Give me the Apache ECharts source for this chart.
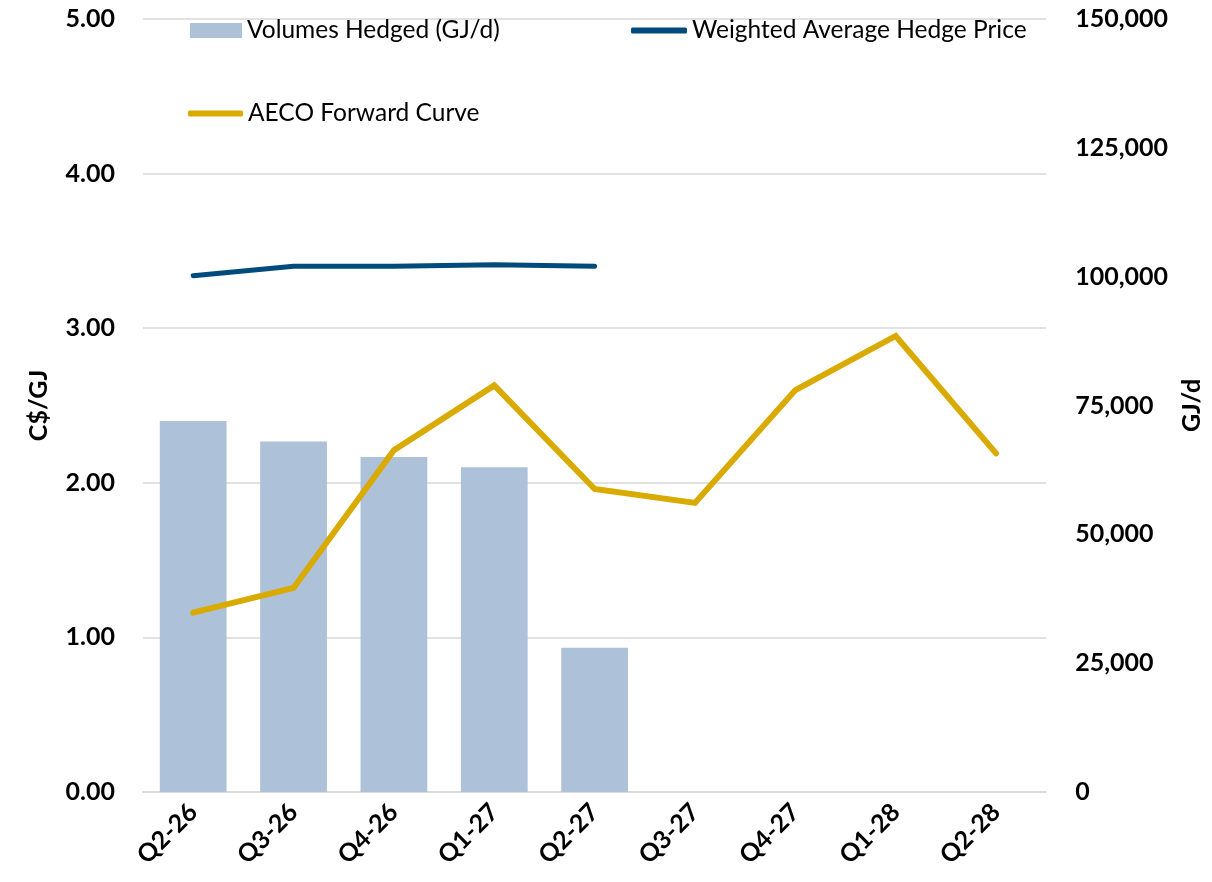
<!DOCTYPE html>
<html>
<head>
<meta charset="utf-8">
<script src="https://cdn.jsdelivr.net/npm/echarts@6/dist/echarts.min.js"></script>
<style>
html,body{margin:0;padding:0;background:#fff;}
#chart{width:1212px;height:882px;}
</style>
</head>
<body>
<div id="chart"></div>
<script>
const categories = ['Q2-26','Q3-26','Q4-26','Q1-27','Q2-27','Q3-27','Q4-27','Q1-28','Q2-28'];
const volumesHedged = [72000, 68000, 65000, 63000, 28000, null, null, null, null];
const hedgePrice = [3.34, 3.40, 3.40, 3.41, 3.40, null, null, null, null];
const aecoCurve = [1.16, 1.32, 2.21, 2.63, 1.96, 1.87, 2.60, 2.95, 2.19];
const leftTicks = {min: 0, max: 5, interval: 1};
const rightTicks = {min: 0, max: 150000, interval: 25000};

const FONT = 'Lato, "Open Sans", sans-serif';
const chart = echarts.init(document.getElementById('chart'), null, {renderer: 'canvas'});
const legendText = {fontFamily: FONT, fontSize: 24.5, color: '#000', lineHeight: 27};

chart.setOption({
  animation: false,
  backgroundColor: '#fff',
  textStyle: {fontFamily: FONT},
  grid: {left: 143, right: 164, top: 19, bottom: 90, containLabel: false},
  legend: [
    {data: [{name: 'Volumes Hedged (GJ/d)', icon: 'rect'}], left: 190, top: 17, padding: 0, itemWidth: 52, itemHeight: 15, textStyle: legendText, selectedMode: false},
    {data: [{name: 'Weighted Average Hedge Price', icon: 'roundRect'}], left: 631, top: 17, padding: 0, itemWidth: 56, itemHeight: 6, textStyle: legendText, selectedMode: false},
    {data: [{name: 'AECO Forward Curve', icon: 'roundRect'}], left: 188, top: 100, padding: 0, itemWidth: 55, itemHeight: 6, textStyle: legendText, selectedMode: false}
  ],
  xAxis: {
    type: 'category',
    data: categories,
    axisLine: {lineStyle: {color: '#d9d9d9', width: 1.5}},
    axisTick: {show: false},
    axisLabel: {rotate: 45, fontFamily: FONT, fontWeight: 'bold', fontSize: 25, color: '#000', margin: 16}
  },
  yAxis: [
    {
      type: 'value', min: leftTicks.min, max: leftTicks.max, interval: leftTicks.interval,
      name: 'C$/GJ', nameLocation: 'middle', nameGap: 92, nameRotate: 90,
      nameTextStyle: {fontFamily: FONT, fontWeight: 'bold', fontSize: 25, color: '#000'},
      axisLine: {show: false}, axisTick: {show: false},
      axisLabel: {formatter: v => v.toFixed(2), fontFamily: FONT, fontWeight: 'bold', fontSize: 25, color: '#000', margin: 28},
      splitLine: {lineStyle: {color: '#d9d9d9', width: 1.5}}
    },
    {
      type: 'value', min: rightTicks.min, max: rightTicks.max, interval: rightTicks.interval,
      name: 'GJ/d', nameLocation: 'middle', nameGap: 99, nameRotate: 90,
      nameTextStyle: {fontFamily: FONT, fontWeight: 'bold', fontSize: 25, color: '#000'},
      axisLine: {show: false}, axisTick: {show: false},
      axisLabel: {formatter: v => v.toLocaleString('en-US'), fontFamily: FONT, fontWeight: 'bold', fontSize: 25, color: '#000', margin: 29},
      splitLine: {show: false}
    }
  ],
  series: [
    {
      name: 'Volumes Hedged (GJ/d)', type: 'bar', yAxisIndex: 1, data: volumesHedged,
      barCategoryGap: '33.5%', itemStyle: {color: '#adc1d9'}, z: 1
    },
    {
      name: 'Weighted Average Hedge Price', type: 'line', yAxisIndex: 0, data: hedgePrice,
      color: '#004b7b', showSymbol: false, symbol: 'none',
      lineStyle: {color: '#004b7b', width: 5, cap: 'round', join: 'round'}, z: 3
    },
    {
      name: 'AECO Forward Curve', type: 'line', yAxisIndex: 0, data: aecoCurve,
      color: '#d9aa00', showSymbol: false, symbol: 'none',
      lineStyle: {color: '#d9aa00', width: 6, cap: 'round', join: 'miter'}, z: 2
    }
  ]
});
</script>
</body>
</html>
